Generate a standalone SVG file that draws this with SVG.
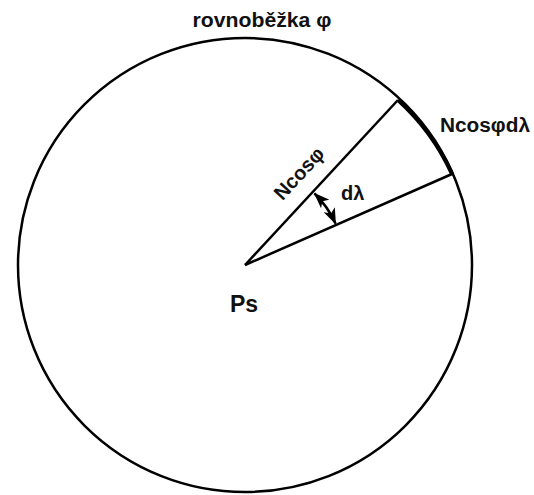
<svg xmlns="http://www.w3.org/2000/svg" width="534" height="495" viewBox="0 0 534 495">
<defs>
<style>
.t{font-family:"Liberation Sans",Arial,sans-serif;font-weight:bold;fill:#111;}
.ln{stroke:#000;stroke-width:2.5;fill:none;}
</style>
<marker id="ah" viewBox="0 0 16 12" refX="15" refY="6" markerWidth="16" markerHeight="12" markerUnits="userSpaceOnUse" orient="auto-start-reverse">
<path d="M0,0 L16,6 L0,12 L4,6 Z" fill="#000"/>
</marker>
</defs>
<rect width="534" height="495" fill="#fff"/>
<g id="parallel-circle">
<circle cx="245" cy="265" r="227" class="ln"/>
</g>
<g id="connectors">
<line x1="245" y1="265" x2="398" y2="100" class="ln"/>
<line x1="245" y1="265" x2="452" y2="174" class="ln"/>
<path d="M398,100 A226,226 0 0 1 452,174" stroke="#000" stroke-width="4" fill="none"/>
<path d="M314.5,193.5 A98,98 0 0 1 335.5,223.5" stroke="#000" stroke-width="2.5" fill="none" marker-start="url(#ah)" marker-end="url(#ah)"/>
</g>
<g id="label-parallel"><text class="t" x="262" y="27" font-size="20" text-anchor="middle" textLength="139" lengthAdjust="spacingAndGlyphs">rovnoběžka φ</text></g>
<g id="label-arc"><text class="t" x="440" y="132" font-size="20" textLength="90" lengthAdjust="spacingAndGlyphs">Ncosφdλ</text></g>
<g id="label-radius"><text class="t" x="304" y="178" font-size="20" text-anchor="middle" transform="rotate(-47.16 304 178)">Ncosφ</text></g>
<g id="label-dlambda"><text class="t" x="341" y="200" font-size="20">dλ</text></g>
<g id="label-ps"><text class="t" x="230" y="312" font-size="23">Ps</text></g>
</svg>
